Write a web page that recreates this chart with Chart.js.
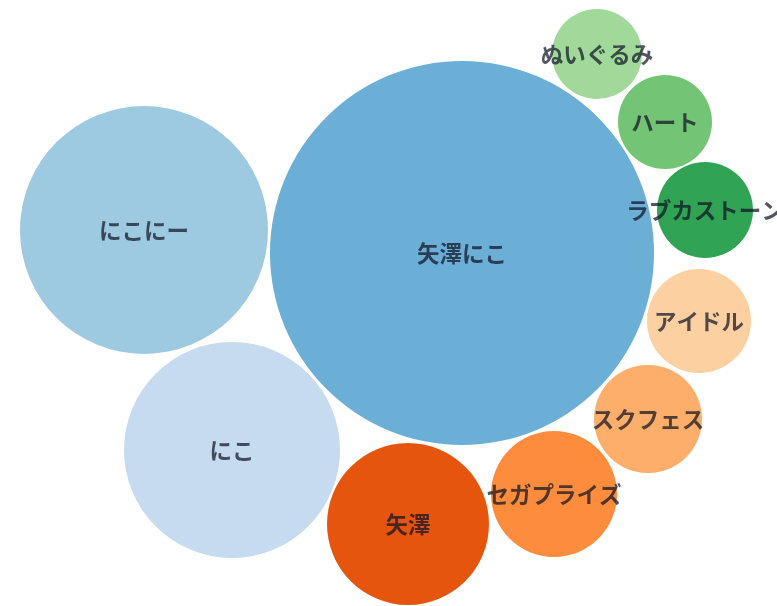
<!DOCTYPE html>
<html>
<head>
<meta charset="utf-8">
<script src="https://cdn.jsdelivr.net/npm/chart.js@4"></script>
<style>
  html, body { margin: 0; padding: 0; background: #ffffff; }
  #wrap { width: 777px; height: 606px; }
</style>
</head>
<body>
<div id="wrap"><canvas id="c" width="777" height="606"></canvas></div>
<script>
// Categories (bubble labels)
const labels = ["矢澤にこ", "にこにー", "にこ", "矢澤", "セガプライズ", "スクフェス", "アイドル", "ラブカストーン", "ハート", "ぬいぐるみ"];
// Packed layout positions (hidden x/y scale units)
const posX = [462, 144, 232, 408, 554, 648, 699, 705, 665, 597];
const posY = [253, 230, 450, 524, 494, 419, 321, 210, 122, 54];
// Bubble sizes (radius)
const sizes = [192, 124, 108, 81, 63, 54, 52, 48, 47, 45];
const colors = ["#6baed6", "#9ecae1", "#c6dbef", "#e6550d", "#fd8d3c", "#fdae6b", "#fdd0a2", "#31a354", "#74c476", "#a1d99b"];

const points = labels.map((l, i) => ({ x: posX[i], y: posY[i], r: sizes[i], label: l }));

const labelPlugin = {
  id: 'bubbleLabels',
  afterDatasetsDraw(chart) {
    const ctx = chart.ctx;
    const meta = chart.getDatasetMeta(0);
    ctx.save();
    ctx.font = 'bold 22.5px "Noto Sans CJK JP", sans-serif';
    ctx.fillStyle = 'rgba(15,20,35,0.72)';
    ctx.textAlign = 'center';
    ctx.textBaseline = 'middle';
    meta.data.forEach((el, i) => {
      ctx.fillText(labels[i], el.x, el.y);
    });
    ctx.restore();
  }
};

new Chart(document.getElementById('c'), {
  type: 'bubble',
  data: {
    datasets: [{
      data: points,
      backgroundColor: colors,
      borderWidth: 0,
      hoverBorderWidth: 0,
      clip: false
    }]
  },
  options: {
    responsive: false,
    devicePixelRatio: 1,
    animation: false,
    events: [],
    layout: { padding: 0, autoPadding: false },
    plugins: { legend: { display: false }, tooltip: { enabled: false } },
    scales: {
      x: { type: 'linear', min: 0, max: 777, display: false },
      y: { type: 'linear', min: 0, max: 606, reverse: true, display: false }
    }
  },
  plugins: [labelPlugin]
});
</script>
</body>
</html>
